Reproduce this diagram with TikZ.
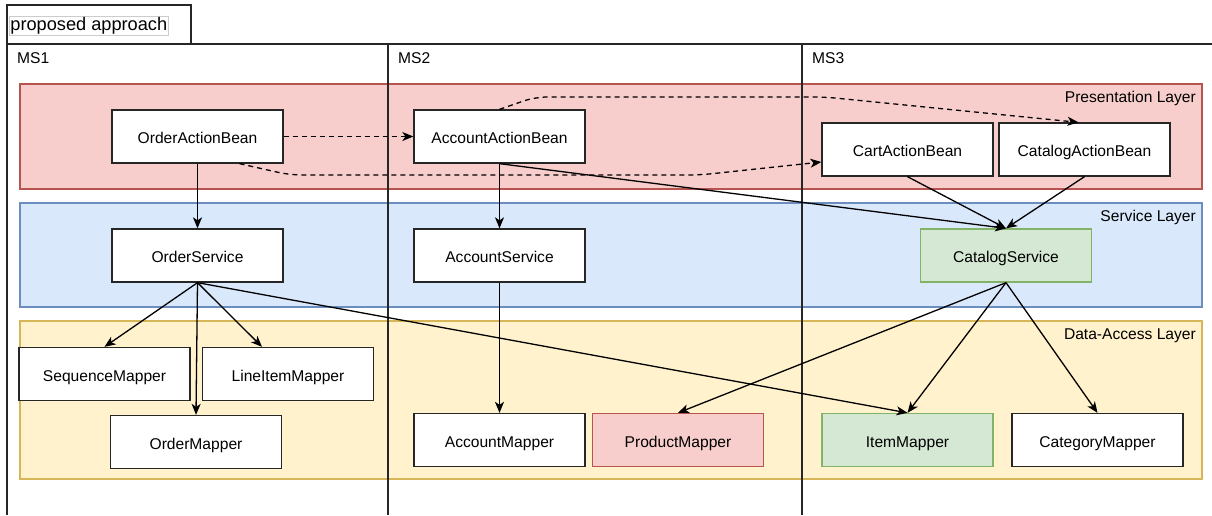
\documentclass[tikz,border=0pt]{standalone}
\usepackage{fontspec}
\setmainfont{Liberation Sans}
\usetikzlibrary{arrows.meta}
\definecolor{redF}{HTML}{F8CECC}
\definecolor{redS}{HTML}{B85450}
\definecolor{blueF}{HTML}{DAE8FC}
\definecolor{blueS}{HTML}{6C8EBF}
\definecolor{yelF}{HTML}{FFF2CC}
\definecolor{yelS}{HTML}{D6B656}
\definecolor{grnF}{HTML}{D5E8D4}
\definecolor{grnS}{HTML}{82B366}
\begin{document}
\begin{tikzpicture}[x=1pt,y=-1pt,
  txt/.style={font=\fontsize{15.6}{18.7}\selectfont, text=black},
  box/.style={txt, draw=black!85, fill=white, line width=1.3pt, minimum width=171pt, minimum height=53pt, inner sep=0pt, text height=15pt, text depth=1pt},
  redbox/.style={box, draw=redS, fill=redF},
  grnbox/.style={box, draw=grnS, fill=grnF},
  layer/.style={line width=1.3pt},
  lbl/.style={txt, anchor=east, inner sep=0pt},
  arr/.style={line width=1.3pt, -{Stealth[length=11pt,width=9pt,inset=3pt]}},
  darr/.style={arr, dash pattern=on 5pt off 4pt},
  frame/.style={line width=1.3pt, draw=black!85}
]
\useasboundingbox (0,0) rectangle (1212,515);
% frame
\draw[frame] (7,5) rectangle (191,44);
\node[draw=black!20, fill=white, line width=0.8pt, anchor=west, inner xsep=1pt, inner ysep=0pt, minimum height=19pt,
      font=\fontsize{18.2}{20}\selectfont] (title) at (9,26) {proposed approach};
\draw[frame] (7,515) -- (7,44) -- (1212,44);
% layers
\draw[layer, draw=redS, fill=redF] (20,84) rectangle (1202,189);
\draw[layer, draw=blueS, fill=blueF] (20,203) rectangle (1202,307);
\draw[layer, draw=yelS, fill=yelF] (20,321) rectangle (1202,479);
\node[lbl] (pl) at (1196,98.5) {Presentation Layer};
\node[lbl] (sl) at (1196,217.5) {Service Layer};
\node[lbl] (dl) at (1196,335.5) {Data-Access Layer};
% columns
\draw[frame] (388,44) -- (388,515);
\draw[frame] (802,44) -- (802,515);
\node[txt, anchor=west, inner sep=0pt] (ms1) at (17,58) {MS1};
\node[txt, anchor=west, inner sep=0pt] (ms2) at (398,58) {MS2};
\node[txt, anchor=west, inner sep=0pt] (ms3) at (812,58) {MS3};
% nodes
\node[box] (oab) at (197.5,136.5) {OrderActionBean};
\node[box] (aab) at (499.5,136.5) {AccountActionBean};
\node[box] (cab) at (907.5,149.5) {CartActionBean};
\node[box] (ctab) at (1084.5,149.5) {CatalogActionBean};
\node[box] (os) at (197.5,255.5) {OrderService};
\node[box] (as) at (499.5,255.5) {AccountService};
\node[grnbox] (cs) at (1006,255.5) {CatalogService};
\node[box] (sm) at (104.5,374) {SequenceMapper};
\node[box] (lim) at (288,374) {LineItemMapper};
\node[box] (om) at (196,442) {OrderMapper};
\node[box] (am) at (499.5,440) {AccountMapper};
\node[redbox] (pm) at (678,440) {ProductMapper};
\node[grnbox] (im) at (907.5,440) {ItemMapper};
\node[box] (cm) at (1097.5,440) {CategoryMapper};
% edges
\draw[darr] (oab) -- (aab);
\draw[darr, rounded corners=12pt] ([xshift=42pt]oab.south) -- (290,175) -- (700,175) -- (cab.west |- 0,162);
\draw[darr, rounded corners=12pt] ([xshift=0pt]aab.north) -- (535,97) -- (825,97) -- ([xshift=-6pt]ctab.north);
\draw[arr] (oab) -- (os);
\draw[arr] (aab) -- (as);
\draw[arr] (as) -- (am);
\draw[arr] (aab.south) -- (cs.north);
\draw[arr] (cab.south) -- (cs.north);
\draw[arr] (ctab.south) -- (cs.north);
\draw[arr] (os.south) -- (sm.north);
\draw[arr] (os.south) -- ([xshift=-26pt]lim.north);
\draw[arr] (os.south) -- (om.north);
\draw[arr] (os.south) -- (im.north);
\draw[arr] (cs.south) -- (pm.north);
\draw[arr] (cs.south) -- (im.north);
\draw[arr] (cs.south) -- (cm.north);
\end{tikzpicture}
\end{document}
